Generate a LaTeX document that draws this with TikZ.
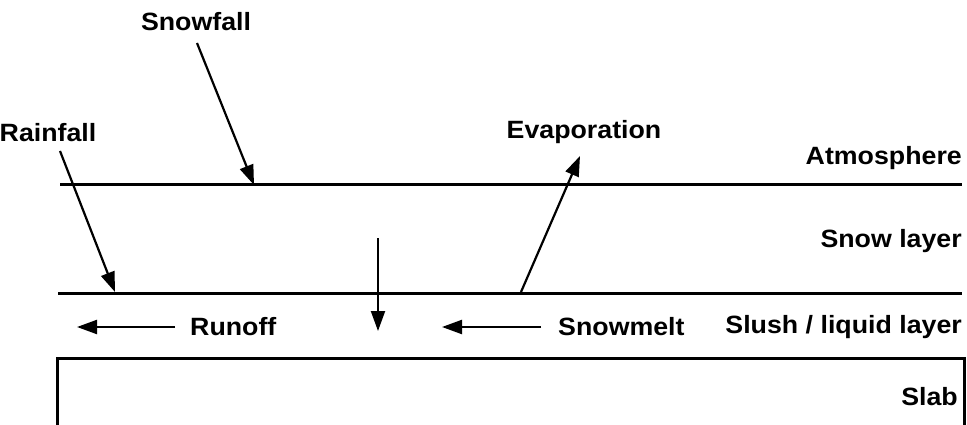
\documentclass[tikz,border=0pt]{standalone}
\usepackage{fontspec}
\setmainfont{Liberation Sans}
\usetikzlibrary{arrows.meta}
\begin{document}
\begin{tikzpicture}[x=1pt,y=-1pt,
  lbl/.style={font=\bfseries\fontsize{25}{29}\selectfont, inner sep=0pt, xscale=1.07, transform shape},
  layer/.style={line width=3pt},
  arr/.style={line width=2.2pt, -{Triangle[length=20pt,width=14pt]}},
  varr/.style={line width=2pt, -{Triangle[length=20pt,width=14pt]}}]
\useasboundingbox (0,0) rectangle (967,425);
% layer lines
\coordinate (t1) at (60,185); \coordinate (t2) at (962,185);
\coordinate (m1) at (58,293); \coordinate (m2) at (962,293);
\draw[layer] (t1) -- (t2);
\draw[layer] (m1) -- (m2);
\coordinate (s1) at (57,427); \coordinate (s2) at (57,358); \coordinate (s3) at (964,358); \coordinate (s4) at (964,427);
\draw[layer] (s1) -- (s2) -- (s3) -- (s4);
% labels
\node[lbl] (snowfall) at (196,22) {Snowfall};
\node[lbl] (rainfall) at (48,133) {Rainfall};
\node[lbl] (evap) at (584,132) {Evaporation};
\node[lbl, anchor=east] (atm) at (962,158) {Atmosphere};
\node[lbl, anchor=east] (snowl) at (962,241) {Snow layer};
\node[lbl, anchor=west] (runoff) at (190,327) {Runoff};
\node[lbl, anchor=west] (snowmelt) at (558,327) {Snowmelt};
\node[lbl, anchor=east] (slush) at (962,327) {Slush / liquid layer};
\node[lbl, anchor=east] (slab) at (958,397) {Slab};
% arrows
\coordinate (sf0) at (197,43); \coordinate (sf1) at (254,185);
\draw[arr] (sf0) -- (sf1);
\coordinate (rf0) at (60,151); \coordinate (rf1) at (115,292);
\draw[arr] (rf0) -- (rf1);
\coordinate (ev0) at (521,292); \coordinate (ev1) at (580,156);
\draw[arr] (ev0) -- (ev1);
\coordinate (v0) at (378,238); \coordinate (v1) at (378,331);
\draw[varr] (v0) -- (v1);
\coordinate (ro0) at (175,327); \coordinate (ro1) at (77,327);
\draw[arr] (ro0) -- (ro1);
\coordinate (sm0) at (541,327); \coordinate (sm1) at (442,327);
\draw[arr] (sm0) -- (sm1);
\end{tikzpicture}
\end{document}
